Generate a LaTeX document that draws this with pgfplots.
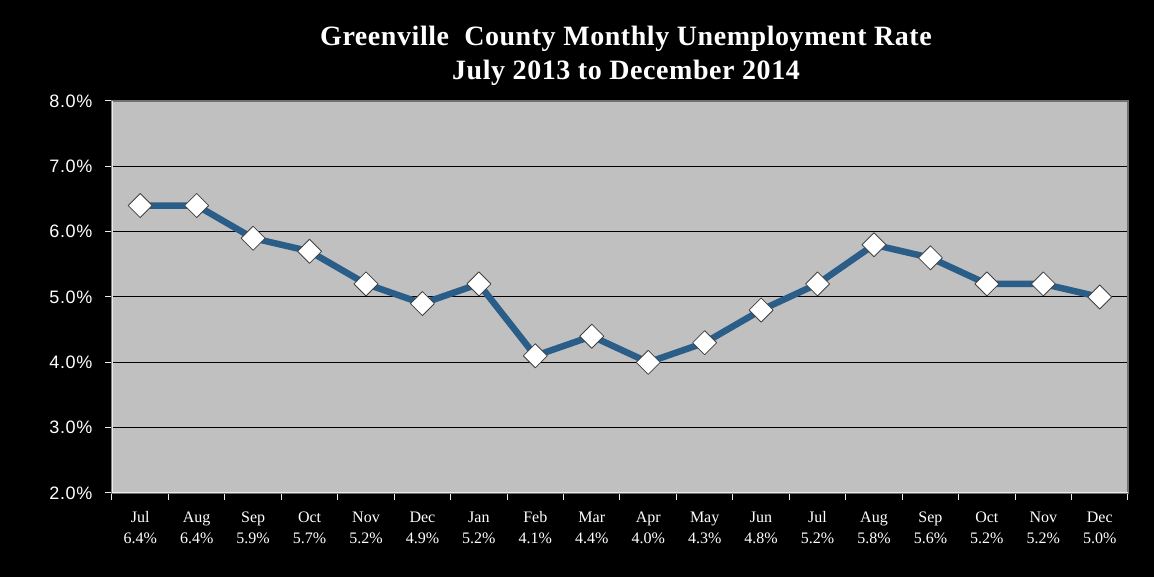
\documentclass[border=0pt]{standalone}
\usepackage{pgfplots}
\pgfplotsset{compat=1.18}
\usepackage{fontspec}
\setmainfont{Liberation Serif}
\newfontfamily\titlefont[LetterSpace=2]{Liberation Serif}
\newfontfamily\arialfont[LetterSpace=4]{Liberation Sans}
\definecolor{plotbg}{HTML}{C0C0C0}
\definecolor{linecol}{HTML}{2A5E88}
\definecolor{framecol}{HTML}{707070}

\begin{document}
\begin{tikzpicture}[x=1pt,y=1pt]
  % background and title, placed relative to the axis box (south west at origin)
  \begin{scope}[shift={(-112,-84)}]
    \fill[black] (0,0) rectangle (1154,577);
    \node[white, anchor=base, font=\titlefont\bfseries\fontsize{28}{34}\selectfont]
      at (626,531) {Greenville\ \ County Monthly Unemployment Rate};
    \node[white, anchor=base, font=\titlefont\bfseries\fontsize{28}{34}\selectfont]
      at (626,497) {July 2013 to December 2014};
  \end{scope}
  \begin{axis}[
    width=1016pt, height=392pt, scale only axis,
    xmin=-0.5, xmax=17.5, ymin=2, ymax=8,
    axis background/.style={fill=plotbg},
    axis line style={draw=framecol, line width=2pt},
    tick align=outside,
    xtick pos=bottom, ytick pos=left,
    xtick={0,...,17},
    xticklabels={{Jul\\6.4\%},{Aug\\6.4\%},{Sep\\5.9\%},{Oct\\5.7\%},{Nov\\5.2\%},{Dec\\4.9\%},
      {Jan\\5.2\%},{Feb\\4.1\%},{Mar\\4.4\%},{Apr\\4.0\%},{May\\4.3\%},{Jun\\4.8\%},
      {Jul\\5.2\%},{Aug\\5.8\%},{Sep\\5.6\%},{Oct\\5.2\%},{Nov\\5.2\%},{Dec\\5.0\%}},
    major x tick style={draw=none},
    minor xtick={-0.5,0.5,...,17.5},
    minor x tick style={white!85!gray, line width=1pt},
    minor tick length=7pt,
    major tick length=7pt,
    ytick={2,...,8},
    yticklabels={2.0\%,3.0\%,4.0\%,5.0\%,6.0\%,7.0\%,8.0\%},
    y tick style={white!85!gray, line width=1pt},
    ymajorgrids,
    major grid style={black, line width=1pt},
    xticklabel style={white, font=\fontsize{16}{21}\selectfont, align=center, yshift=-8pt},
    yticklabel style={white, font=\arialfont\fontsize{18}{20}\selectfont, xshift=-9pt},
  ]
    \addplot[linecol, line width=6.5pt, line join=round,
      mark=square*, mark size=8.5pt,
      mark options={rotate=45, fill=white, draw=gray!50!black, line width=0.8pt}]
      coordinates {
        (0,6.4) (1,6.4) (2,5.9) (3,5.7) (4,5.2) (5,4.9)
        (6,5.2) (7,4.1) (8,4.4) (9,4.0) (10,4.3) (11,4.8)
        (12,5.2) (13,5.8) (14,5.6) (15,5.2) (16,5.2) (17,5.0)
      };
    \draw[white!85!gray, line width=1.5pt]
      (rel axis cs:0,1) -- (rel axis cs:0,0) -- (rel axis cs:1,0);
  \end{axis}
\end{tikzpicture}
\end{document}
